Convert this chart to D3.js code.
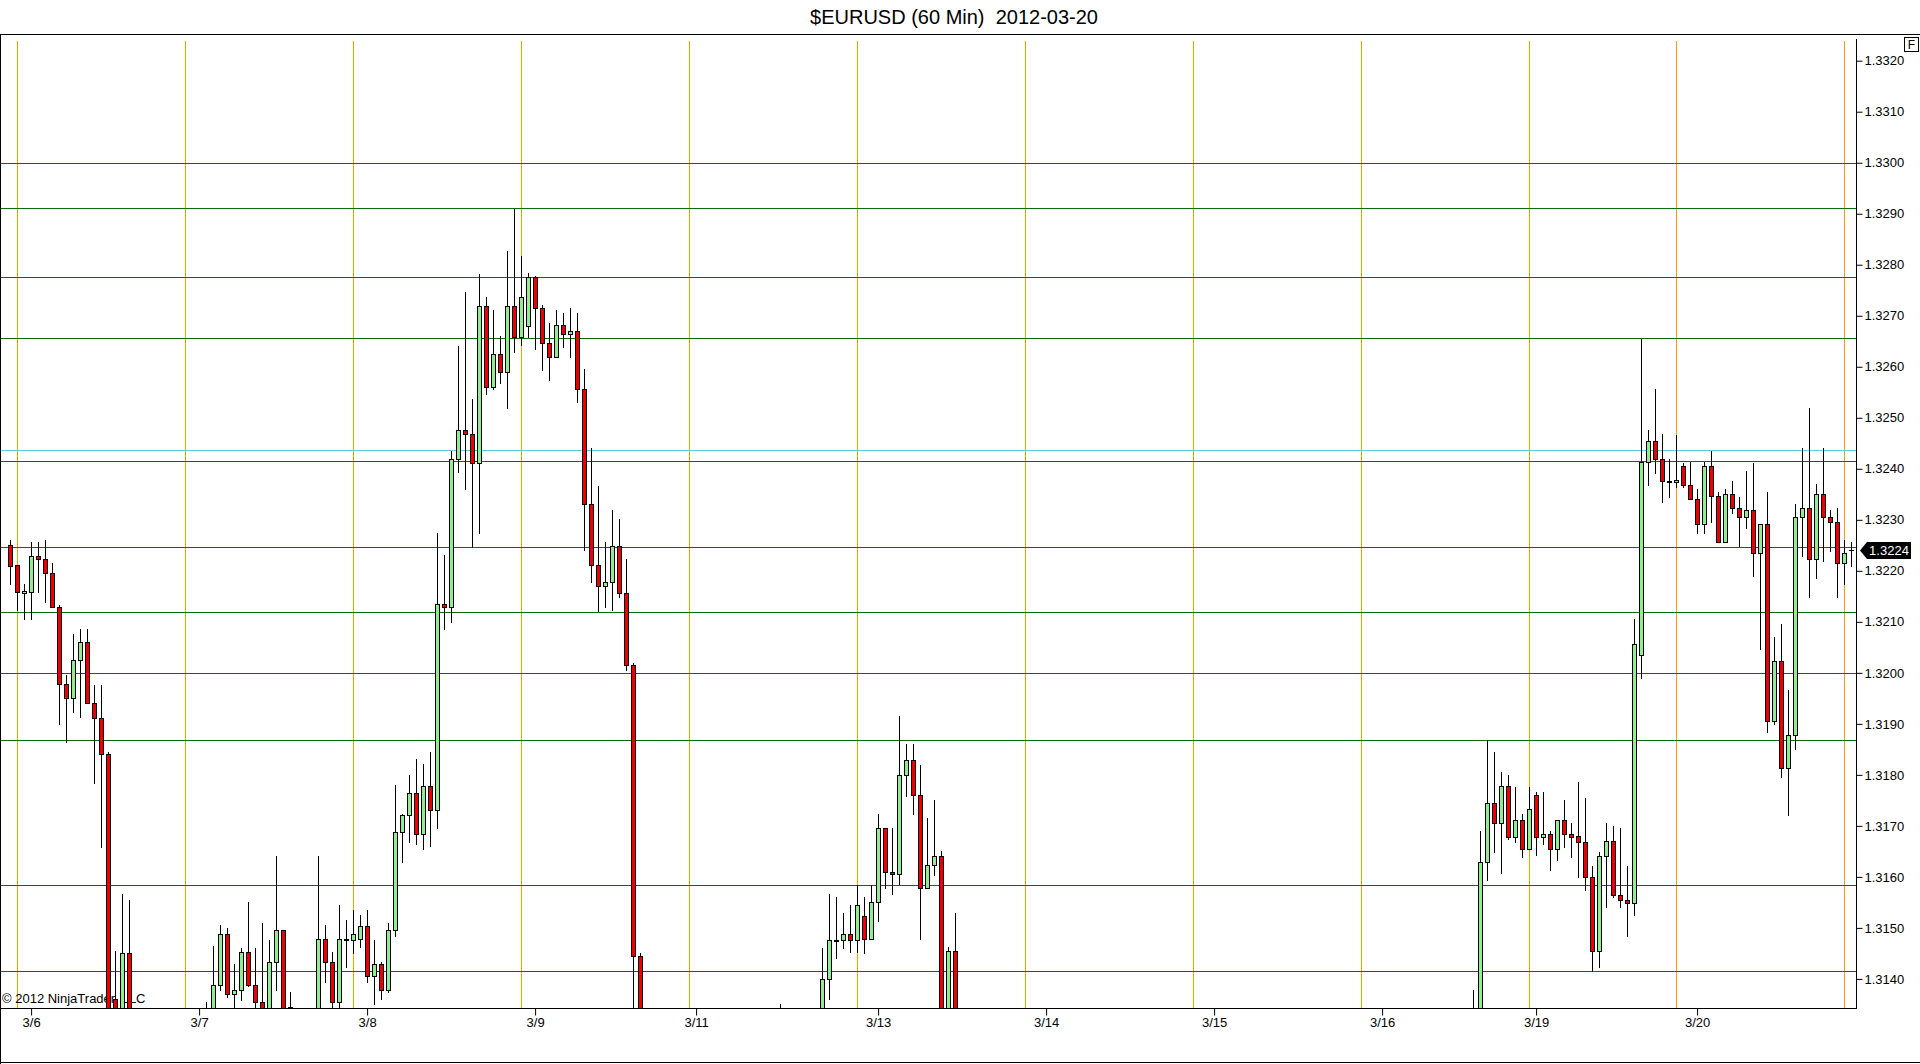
<!DOCTYPE html>
<html><head><meta charset="utf-8">
<script src="https://cdn.jsdelivr.net/npm/d3@7"></script>
<style>
html,body{margin:0;padding:0;background:#fff;overflow:hidden;}
svg{display:block;}
text{font-family:"Liberation Sans", Arial, sans-serif;}
</style></head><body>
<svg id="chart" width="1920" height="1064"></svg>
<script>
// ---------------- DATA ----------------
const chartTitle = "$EURUSD (60 Min)  2012-03-20";
const copyrightText = "\u00A9 2012 NinjaTrader, LLC";

// hourly bar index (bars lying entirely outside the visible price band are omitted)
const barIndex = [0,1,2,3,4,5,6,7,8,9,10,11,12,13,14,15,16,17,
  28,29,30,31,32,33,34,35,36,37,38,39,40,
  44,45,46,47,48,49,50,51,52,53,54,55,56,57,58,59,60,61,62,63,64,65,66,67,68,69,70,
  71,72,73,74,75,76,77,78,79,80,81,82,83,84,85,86,87,88,89,90,
  110,116,117,118,119,120,121,122,123,124,125,126,127,128,129,130,131,132,133,134,135,
  209,210,211,212,213,214,215,216,217,218,219,220,221,222,223,224,225,226,227,228,229,230,231,232,
  233,234,235,236,237,238,239,240,241,242,243,244,245,246,247,248,249,250,251,252,253,254,255,256,
  257,258,259,260,261,262,263];

const opens = [1.32250,1.32211,1.32156,1.32159,1.32230,1.32224,1.32195,1.32129,1.31979,1.31950,1.32025,1.32060,1.31940,1.31911,1.31840,1.31360,1.31280,1.31450,
  1.31310,1.31310,1.31389,1.31489,1.31370,1.31379,1.31453,1.31389,1.31354,1.31300,1.31433,1.31495,1.31345,
  1.31310,1.31479,1.31433,1.31354,1.31479,1.31476,1.31479,1.31504,1.31405,1.31430,1.31379,1.31495,1.31688,1.31721,1.31765,1.31685,1.31778,1.31731,1.32134,1.32130,1.32420,1.32476,1.32469,1.32411,1.32720,1.32560,1.32626,
  1.32590,1.32720,1.32659,1.32680,1.32775,1.32715,1.32646,1.32620,1.32681,1.32665,1.32671,1.32556,1.32331,1.32211,1.32170,1.32178,1.32249,1.32156,1.32015,1.31444,
  1.31300,1.31300,1.31399,1.31475,1.31476,1.31489,1.31476,1.31524,1.31479,1.31550,1.31695,1.31609,1.31605,1.31799,1.31830,1.31760,1.31579,1.31624,1.31640,1.31310,1.31454,
  1.31300,1.31290,1.31630,1.31744,1.31705,1.31779,1.31678,1.31711,1.31654,1.31760,1.31678,1.31685,1.31654,1.31711,1.31685,1.31680,1.31669,1.31599,1.31454,1.31641,1.31670,1.31565,1.31554,1.31549,
  1.32035,1.32414,1.32455,1.32420,1.32376,1.32374,1.32405,1.32369,1.32340,1.32291,1.32405,1.32346,1.32256,1.32350,1.32324,1.32305,1.32320,1.32234,1.32291,1.31905,1.32024,1.31814,1.31879,1.32305,
  1.32324,1.32224,1.32350,1.32305,1.32295,1.32215,1.32241];

const highs = [1.32260,1.32211,1.32175,1.32256,1.32256,1.32260,1.32215,1.32133,1.31995,1.32076,1.32085,1.32085,1.31976,1.31976,1.31845,1.31454,1.31566,1.31554,
  1.31355,1.31464,1.31505,1.31499,1.31430,1.31460,1.31550,1.31460,1.31509,1.31476,1.31641,1.31495,1.31375,
  1.31641,1.31505,1.31453,1.31544,1.31515,1.31535,1.31525,1.31535,1.31476,1.31433,1.31509,1.31780,1.31724,1.31799,1.31831,1.31821,1.31845,1.32275,1.32231,1.32435,1.32641,1.32747,1.32536,1.32781,1.32736,1.32711,1.32660,
  1.32827,1.32909,1.32817,1.32783,1.32778,1.32721,1.32685,1.32711,1.32705,1.32715,1.32705,1.32595,1.32441,1.32366,1.32257,1.32320,1.32301,1.32224,1.32020,1.31450,
  1.31350,1.31460,1.31566,1.31560,1.31530,1.31544,1.31585,1.31560,1.31585,1.31724,1.31695,1.31695,1.31915,1.31860,1.31860,1.31820,1.31715,1.31750,1.31650,1.31463,1.31530,
  1.31379,1.31690,1.31868,1.31844,1.31806,1.31799,1.31776,1.31724,1.31776,1.31767,1.31767,1.31690,1.31711,1.31750,1.31705,1.31786,1.31755,1.31622,1.31649,1.31705,1.31699,1.31696,1.31622,1.32105,
  1.32654,1.32476,1.32556,1.32469,1.32420,1.32466,1.32411,1.32414,1.32360,1.32414,1.32435,1.32355,1.32360,1.32376,1.32345,1.32396,1.32411,1.32291,1.32355,1.32071,1.32095,1.31966,1.32331,1.32441,
  1.32520,1.32370,1.32441,1.32320,1.32324,1.32260,1.32257];

const lows = [1.32174,1.32123,1.32105,1.32105,1.32159,1.32139,1.32129,1.31899,1.31865,1.31924,1.31914,1.31940,1.31784,1.31659,1.31250,1.31220,1.31240,1.31260,
  1.31270,1.31280,1.31379,1.31364,1.31330,1.31358,1.31386,1.31330,1.31260,1.31260,1.31379,1.31270,1.31330,
  1.31270,1.31394,1.31330,1.31330,1.31424,1.31450,1.31463,1.31394,1.31350,1.31360,1.31375,1.31484,1.31629,1.31669,1.31665,1.31654,1.31660,1.31695,1.32085,1.32100,1.32394,1.32360,1.32247,1.32275,1.32546,1.32556,1.32569,
  1.32520,1.32629,1.32643,1.32659,1.32635,1.32594,1.32574,1.32620,1.32639,1.32620,1.32530,1.32241,1.32178,1.32122,1.32129,1.32124,1.32149,1.32005,1.31300,1.31220,
  1.31260,1.31270,1.31360,1.31440,1.31460,1.31453,1.31453,1.31450,1.31479,1.31514,1.31579,1.31566,1.31586,1.31758,1.31723,1.31478,1.31579,1.31603,1.31260,1.31280,1.31260,
  1.31260,1.31250,1.31594,1.31649,1.31608,1.31674,1.31669,1.31639,1.31654,1.31643,1.31664,1.31613,1.31633,1.31659,1.31639,1.31599,1.31574,1.31416,1.31424,1.31540,1.31560,1.31540,1.31484,1.31525,
  1.31989,1.32369,1.32391,1.32335,1.32345,1.32365,1.32365,1.32340,1.32275,1.32275,1.32295,1.32256,1.32256,1.32314,1.32249,1.32284,1.32190,1.32046,1.31884,1.31899,1.31795,1.31721,1.31850,1.32229,
  1.32149,1.32185,1.32220,1.32239,1.32149,1.32175,1.32210];

const closes = [1.32210,1.32159,1.32160,1.32230,1.32224,1.32195,1.32129,1.31979,1.31950,1.32025,1.32060,1.31940,1.31911,1.31840,1.31300,1.31280,1.31450,1.31300,
  1.31320,1.31389,1.31489,1.31370,1.31379,1.31453,1.31389,1.31354,1.31300,1.31433,1.31495,1.31300,1.31345,
  1.31479,1.31433,1.31354,1.31479,1.31476,1.31489,1.31504,1.31405,1.31430,1.31379,1.31495,1.31688,1.31721,1.31765,1.31685,1.31778,1.31731,1.32134,1.32130,1.32420,1.32476,1.32469,1.32411,1.32720,1.32560,1.32626,1.32590,
  1.32720,1.32659,1.32736,1.32775,1.32715,1.32646,1.32620,1.32681,1.32665,1.32671,1.32556,1.32331,1.32211,1.32170,1.32178,1.32249,1.32156,1.32015,1.31444,1.31280,
  1.31310,1.31399,1.31476,1.31476,1.31489,1.31476,1.31544,1.31479,1.31550,1.31695,1.31609,1.31605,1.31799,1.31830,1.31760,1.31579,1.31624,1.31640,1.31300,1.31454,1.31300,
  1.31310,1.31630,1.31744,1.31705,1.31779,1.31678,1.31711,1.31654,1.31734,1.31678,1.31685,1.31654,1.31711,1.31685,1.31678,1.31669,1.31599,1.31454,1.31641,1.31670,1.31565,1.31554,1.31549,1.32056,
  1.32414,1.32455,1.32420,1.32376,1.32374,1.32379,1.32369,1.32340,1.32291,1.32405,1.32346,1.32256,1.32350,1.32324,1.32305,1.32320,1.32234,1.32291,1.31905,1.32024,1.31814,1.31879,1.32305,1.32324,
  1.32224,1.32350,1.32305,1.32295,1.32215,1.32234,1.32241];

const dateTickBars   = [3, 27, 51, 75, 98, 124, 148, 172, 196, 218, 241];
const dateTickLabels = ["3/6","3/7","3/8","3/9","3/11","3/13","3/14","3/15","3/16","3/19","3/20"];
const sessionBreakBars = [1, 25, 49, 73, 97, 121, 145, 169, 193, 217, 238, 262];
const levelLines = [1.33000, 1.32911, 1.32775, 1.32656, 1.32415, 1.32246, 1.32120, 1.32000, 1.31869, 1.31585, 1.31415];
const cyanLevels = [1.32436];
const priceTicks = [1.3140,1.3150,1.3160,1.3170,1.3180,1.3190,1.3200,1.3210,1.3220,1.3230,1.3240,1.3250,1.3260,1.3270,1.3280,1.3290,1.3300,1.3310,1.3320];
const lastPrice = 1.3224;

// ---------------- LAYOUT ----------------
const W = 1920, H = 1064;
const plot = {left: 0, right: 1856, top: 39, bottom: 1008};
const svg = d3.select("#chart");

const x = d3.scaleLinear().domain([0, 263]).range([9.6, 1850.6]);
const y = d3.scaleLinear().domain([1.3140, 1.3320]).range([978.9, 60.7]);

svg.append("defs").append("clipPath").attr("id","plotClip")
  .append("rect").attr("x", 1).attr("y", plot.top).attr("width", plot.right - 1).attr("height", plot.bottom - plot.top);

// title
svg.append("text").attr("x", 954).attr("y", 24).attr("text-anchor","middle")
  .attr("font-size", 20).attr("fill","#000").style("white-space","pre").attr("xml:space","preserve").text(chartTitle);

// session break lines
svg.append("g").selectAll("line").data(sessionBreakBars).join("line")
  .attr("x1", d => Math.round(x(d)) + 0.5).attr("x2", d => Math.round(x(d)) + 0.5)
  .attr("y1", 41).attr("y2", plot.bottom)
  .attr("stroke", "#f2a100").attr("stroke-width", 1).attr("shape-rendering","crispEdges");

// horizontal levels
svg.append("g").selectAll("line").data(levelLines).join("line")
  .attr("x1", 0).attr("x2", plot.right)
  .attr("y1", d => Math.round(y(d)) + 0.5).attr("y2", d => Math.round(y(d)) + 0.5)
  .attr("stroke", "#0b6b0b").attr("stroke-width", 1.3).attr("shape-rendering","crispEdges");
svg.append("g").selectAll("line").data(cyanLevels).join("line")
  .attr("x1", 0).attr("x2", plot.right)
  .attr("y1", d => Math.round(y(d)) + 0.5).attr("y2", d => Math.round(y(d)) + 0.5)
  .attr("stroke", "#5ccbd8").attr("stroke-width", 1.3).attr("shape-rendering","crispEdges");

// copyright
svg.append("text").attr("x", 2).attr("y", 1003).attr("font-size", 13).attr("fill","#000").text(copyrightText);

// candles
const cg = svg.append("g").attr("clip-path","url(#plotClip)");
barIndex.forEach((b, k) => {
  const cx = Math.round(x(b)) + 0.5;
  const o = opens[k], c = closes[k];
  cg.append("line").attr("x1", cx).attr("x2", cx)
    .attr("y1", Math.round(y(highs[k]))).attr("y2", Math.round(y(lows[k])) + 1)
    .attr("stroke", "#000").attr("stroke-width", 1).attr("shape-rendering","crispEdges");
  const t = Math.round(y(Math.max(o, c))) + 0.5;
  const bt = Math.round(y(Math.min(o, c))) + 0.5;
  const up = c >= o;
  if (bt - t < 1) {
    cg.append("line").attr("x1", cx - 2.5).attr("x2", cx + 2.5).attr("y1", t).attr("y2", t)
      .attr("stroke", "#000").attr("stroke-width", 1).attr("shape-rendering","crispEdges");
  } else {
    cg.append("rect").attr("x", cx - 2).attr("y", t).attr("width", 4).attr("height", bt - t)
      .attr("fill", up ? "#90ee90" : "#ee0000").attr("stroke", "#000").attr("stroke-width", 1)
      .attr("shape-rendering","crispEdges");
  }
});

// y axis
const yAxis = d3.axisRight(y).tickValues(priceTicks).tickFormat(d3.format(".4f")).tickSize(6).tickPadding(2);
const yg = svg.append("g").attr("transform", `translate(${plot.right + 0.5},0)`).call(yAxis);
yg.select(".domain").remove();
yg.selectAll("text").attr("font-size", 13).attr("font-family", '"Liberation Sans", Arial, sans-serif').attr("fill","#000");
yg.selectAll("line").attr("stroke","#000");
svg.append("line").attr("x1", plot.right + 0.5).attr("x2", plot.right + 0.5).attr("y1", plot.top).attr("y2", plot.bottom + 1)
  .attr("stroke","#000").attr("shape-rendering","crispEdges");

// x axis
const xAxis = d3.axisBottom(x).tickValues(dateTickBars).tickFormat((d, i) => dateTickLabels[i]).tickSize(7).tickPadding(2);
const xg = svg.append("g").attr("transform", `translate(0.5,${plot.bottom + 0.5})`).call(xAxis);
xg.select(".domain").remove();
xg.selectAll("text").attr("font-size", 13).attr("font-family", '"Liberation Sans", Arial, sans-serif').attr("fill","#000");
xg.selectAll("line").attr("stroke","#000");
svg.append("line").attr("x1", 0).attr("x2", plot.right + 1).attr("y1", plot.bottom + 0.5).attr("y2", plot.bottom + 0.5)
  .attr("stroke","#000").attr("shape-rendering","crispEdges");

// last price marker
const py = y(lastPrice);
svg.append("path")
  .attr("d", `M${plot.right + 4},${py} L${plot.right + 11},${py - 8.5} L${plot.right + 55},${py - 8.5} L${plot.right + 55},${py + 8.5} L${plot.right + 11},${py + 8.5} Z`)
  .attr("fill", "#000");
svg.append("text").attr("x", plot.right + 33).attr("y", py + 5).attr("text-anchor","middle")
  .attr("font-size", 13).attr("fill","#fff").text(d3.format(".4f")(lastPrice));

// frame
svg.append("line").attr("x1", 0).attr("x2", W).attr("y1", 34.5).attr("y2", 34.5).attr("stroke","#000").attr("stroke-width",1.2);
svg.append("line").attr("x1", 0.5).attr("x2", 0.5).attr("y1", 34).attr("y2", H).attr("stroke","#000");
svg.append("line").attr("x1", 0).attr("x2", W).attr("y1", 1062.5).attr("y2", 1062.5).attr("stroke","#000");

// "F" box
svg.append("rect").attr("x", 1904.5).attr("y", 37.5).attr("width", 14).attr("height", 14).attr("fill","#fff").attr("stroke","#000");
svg.append("text").attr("x", 1911.5).attr("y", 49).attr("text-anchor","middle").attr("font-size", 12).text("F");
</script>
</body></html>
